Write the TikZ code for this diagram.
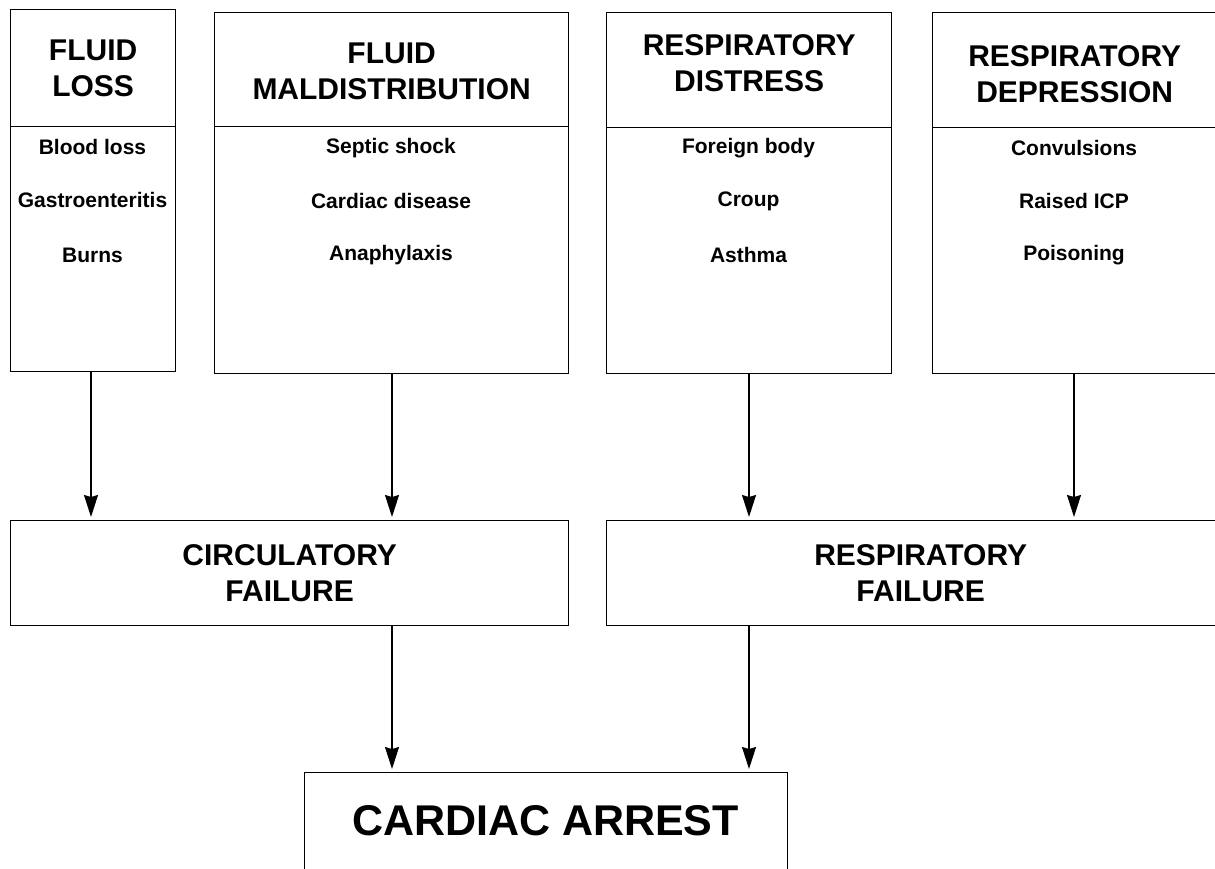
\documentclass[tikz,border=0pt]{standalone}
\usepackage{fontspec}
\setmainfont{Liberation Sans}
\usetikzlibrary{arrows.meta}
\begin{document}
\begin{tikzpicture}[x=1pt,y=-1pt,
  box/.style={draw, line width=1.3pt, rectangle, inner sep=0pt},
  head/.style={font=\bfseries\fontsize{30}{36}\selectfont, align=center},
  item/.style={font=\bfseries\fontsize{21}{25}\selectfont, anchor=center},
  big/.style={font=\bfseries\fontsize{43}{50}\selectfont},
  link/.style={line width=1.3pt, -{Stealth[length=22pt,width=14pt,inset=2pt]}, shorten >=3pt}]
\useasboundingbox (0,0) rectangle (1215,868);
\clip (0,0) rectangle (1215,868);

% Cause boxes: header part and list part
\node[box, minimum width=165pt, minimum height=117pt, anchor=north west] (flh) at (10,9) {};
\node[box, minimum width=165pt, minimum height=245pt, anchor=north west] (flb) at (10,126) {};
\node[head] at (flh.center) {FLUID\\LOSS};
\node[item] (fl1) at (92.5,147) {Blood loss};
\node[item] (fl2) at (92.5,200) {Gastroenteritis};
\node[item] (fl3) at (92.5,255) {Burns};

\node[box, minimum width=354pt, minimum height=114pt, anchor=north west] (fmh) at (214,12) {};
\node[box, minimum width=354pt, minimum height=247pt, anchor=north west] (fmb) at (214,126) {};
\node[head] at ([yshift=-2pt]fmh.center) {FLUID\\MALDISTRIBUTION};
\node[item] (fm1) at (391,148) {Septic shock};
\node[item] (fm2) at (391,201) {Cardiac disease};
\node[item] (fm3) at (391,255) {Anaphylaxis};

\node[box, minimum width=285pt, minimum height=115pt, anchor=north west] (rdh) at (606,12) {};
\node[box, minimum width=285pt, minimum height=246pt, anchor=north west] (rdb) at (606,127) {};
\node[head] at ([yshift=7pt]rdh.center) {RESPIRATORY\\DISTRESS};
\node[item] (rd1) at (748.5,148) {Foreign body};
\node[item] (rd2) at (748.5,201) {Croup};
\node[item] (rd3) at (748.5,255) {Asthma};

\node[box, minimum width=284pt, minimum height=115pt, anchor=north west] (rph) at (932,12) {};
\node[box, minimum width=284pt, minimum height=246pt, anchor=north west] (rpb) at (932,127) {};
\node[head] at ([yshift=-4pt]rph.center) {RESPIRATORY\\DEPRESSION};
\node[item] (rp1) at (1074,148) {Convulsions};
\node[item] (rp2) at (1074,201) {Raised ICP};
\node[item] (rp3) at (1074,255) {Poisoning};

% Failure boxes
\node[box, head, minimum width=558pt, minimum height=105pt, anchor=north west] (cf) at (10,520) {CIRCULATORY\\FAILURE};
\node[box, head, minimum width=628pt, minimum height=105pt, anchor=north west] (rf) at (606,520) {RESPIRATORY\\FAILURE};

% Final outcome
\node[box, minimum width=483pt, minimum height=100pt, anchor=north west] (ca) at (304,772) {};
\node[big] (cat) at (545.5,821) {CARDIAC ARREST};

% Connectors
\draw[link] (flb.south -| 91,0) -- (cf.north -| 91,0);
\draw[link] (fmb.south -| 392,0) -- (cf.north -| 392,0);
\draw[link] (rdb.south -| 749,0) -- (rf.north -| 749,0);
\draw[link] (rpb.south -| 1074,0) -- (rf.north -| 1074,0);
\draw[link] (cf.south -| 392,0) -- (ca.north -| 392,0);
\draw[link] (rf.south -| 749,0) -- (ca.north -| 749,0);
\end{tikzpicture}
\end{document}
